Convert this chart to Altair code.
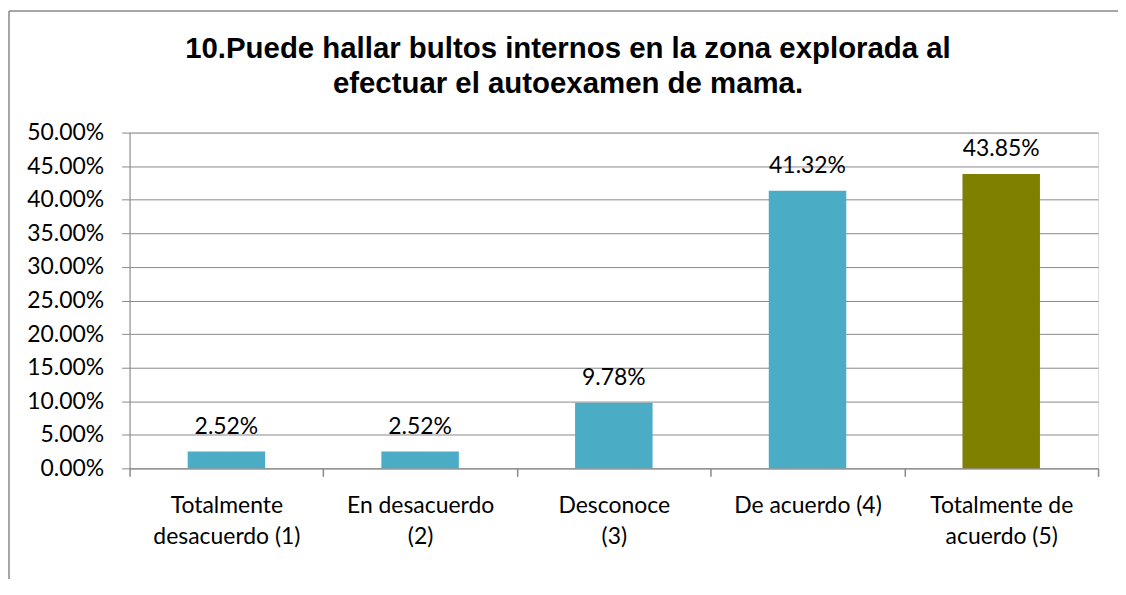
import altair as alt
import pandas as pd

categories = ["Totalmente\ndesacuerdo (1)", "En desacuerdo\n(2)", "Desconoce\n(3)",
              "De acuerdo (4)", "Totalmente de\nacuerdo (5)"]
values = [0.0252, 0.0252, 0.0978, 0.4132, 0.4385]
labels = ["2.52%", "2.52%", "9.78%", "41.32%", "43.85%"]
colors = ["#4BACC6", "#4BACC6", "#4BACC6", "#4BACC6", "#808000"]
y_ticks = [0, 0.05, 0.10, 0.15, 0.20, 0.25, 0.30, 0.35, 0.40, 0.45, 0.50]
title_line1 = "10.Puede hallar bultos internos en la zona explorada al"
title_line2 = "efectuar el autoexamen de mama."

df = pd.DataFrame({"cat": categories, "val": values, "lab": labels, "col": colors})

FONT = "Lato"
FS = 23
GRID = "#898989"

x = alt.X("cat:N", sort=categories, title=None,
          scale=alt.Scale(paddingInner=0, paddingOuter=0),
          axis=alt.Axis(labelAngle=0, ticks=True, tickBand="extent", tickSize=8,
                        tickColor=GRID, tickWidth=1.5, domainColor=GRID,
                        labelFont=FONT, labelFontSize=FS, labelColor="#000000",
                        labelPadding=18, labelLineHeight=31,
                        labelExpr="split(datum.label, '\\n')", labelLimit=400))
y = alt.Y("val:Q", title=None,
          scale=alt.Scale(domain=[0, 0.5], nice=False),
          axis=alt.Axis(values=y_ticks, format=".2%", ticks=True, tickSize=8,
                        tickColor=GRID, tickWidth=1, domainColor=GRID,
                        gridColor=GRID, grid=True, labelOverlap=False,
                        labelFont=FONT, labelFontSize=FS, labelColor="#000000",
                        labelPadding=18))

base = alt.Chart(df)
bars = base.mark_bar(width=alt.RelativeBandSize(0.4)).encode(
    x=x, y=y, color=alt.Color("col:N", scale=None))
text = base.mark_text(font=FONT, fontSize=FS, color="#000000", baseline="alphabetic",
                      dy=-18).encode(x=x, y=y, text="lab:N")

one = pd.DataFrame({"k": [0]})
left_line = alt.Chart(one).mark_rule(color=GRID, strokeWidth=1.5).encode(
    x=alt.value(-121), y=alt.value(-122), y2=alt.value(480))
top_line = alt.Chart(one).mark_rule(color=GRID, strokeWidth=1.5).encode(
    x=alt.value(-121), x2=alt.value(1000), y=alt.value(-122))
t1 = alt.Chart(one).mark_text(font="Liberation Sans", fontSize=29.5, fontWeight="bold",
                              color="#000000", align="center", baseline="alphabetic").encode(
    x=alt.value(440), y=alt.value(-75), text=alt.value(title_line1))
t2 = alt.Chart(one).mark_text(font="Liberation Sans", fontSize=29.5, fontWeight="bold",
                              color="#000000", align="center", baseline="alphabetic").encode(
    x=alt.value(440), y=alt.value(-40), text=alt.value(title_line2))

chart = alt.layer(left_line, top_line, t1, t2, bars, text).properties(
    width=972, height=337,
    autosize=alt.AutoSizeParams(type="none"),
    padding={"left": 122, "top": 124, "right": 20, "bottom": 110},
).configure_view(stroke=GRID, strokeWidth=1).configure(background="white")

chart.save("out.html", embed_options={"renderer": "svg", "actions": False})
